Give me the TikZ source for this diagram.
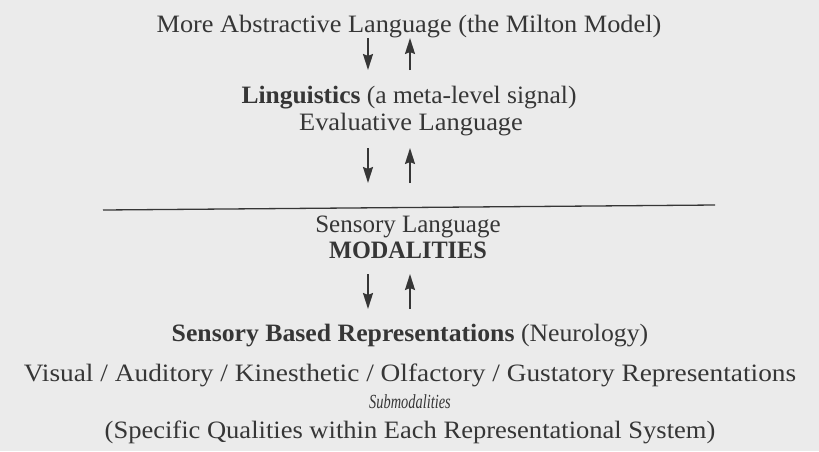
\documentclass[tikz,border=0pt]{standalone}
\usepackage{fontspec}
\usepackage{graphicx}
\setmainfont{Liberation Serif}
\usetikzlibrary{arrows.meta}
\definecolor{paper}{HTML}{EBEBEB}
\definecolor{ink}{HTML}{363636}
\newcommand\wide[2]{\scalebox{#1}[1]{#2}}
\begin{document}
\begin{tikzpicture}[x=1pt,y=-1pt,
  txt/.style={anchor=base, inner sep=0pt, text=ink, font=\fontsize{25}{29}\selectfont},
  smalltxt/.style={anchor=base, inner sep=0pt, text=ink, font=\fontsize{20}{23}\selectfont\itshape},
  updown/.style={draw=ink, line width=2pt, -{Stealth[length=16pt,width=10pt,inset=2pt]}},
  rule/.style={draw=ink, line width=1.3pt}]
\fill[paper] (0,0) rectangle (819,451);
\useasboundingbox (0,0) rectangle (819,451);

\node[txt] (milton) at (409,32) {\wide{1.052}{More Abstractive Language (the Milton Model)}};
\node[txt] (ling) at (409,103) {\wide{1.02}{\textbf{Linguistics} (a meta-level signal)}};
\node[txt] (eval) at (411,130) {\wide{1.057}{Evaluative Language}};
\node[txt] (senslang) at (408,232) {\wide{1.0}{Sensory Language}};
\node[txt] (modal) at (408,258) {\wide{0.97}{\textbf{MODALITIES}}};
\node[txt] (sensbased) at (410,341) {\wide{1.03}{\textbf{Sensory Based Representations} (Neurology)}};
\node[txt] (vakog) at (410,381) {\wide{1.094}{Visual / Auditory / Kinesthetic / Olfactory / Gustatory Representations}};
\node[smalltxt] (submod) at (410,408) {\wide{0.72}{Submodalities}};
\node[txt] (qual) at (410,438) {\wide{1.061}{(Specific Qualities within Each Representational System)}};

\coordinate (d1a) at (368,38);  \coordinate (d1b) at (368,70);
\coordinate (u1a) at (410,70);  \coordinate (u1b) at (410,38);
\coordinate (d2a) at (368,148); \coordinate (d2b) at (368,183);
\coordinate (u2a) at (410,183); \coordinate (u2b) at (410,148);
\coordinate (d3a) at (368,274); \coordinate (d3b) at (368,309);
\coordinate (u3a) at (410,309); \coordinate (u3b) at (410,274);
\coordinate (rulel) at (103,210); \coordinate (ruler) at (715,205);

\draw[updown] (d1a) -- (d1b);
\draw[updown] (u1a) -- (u1b);
\draw[updown] (d2a) -- (d2b);
\draw[updown] (u2a) -- (u2b);
\draw[updown] (d3a) -- (d3b);
\draw[updown] (u3a) -- (u3b);
\draw[rule] (rulel) -- (ruler);
\end{tikzpicture}
\end{document}
